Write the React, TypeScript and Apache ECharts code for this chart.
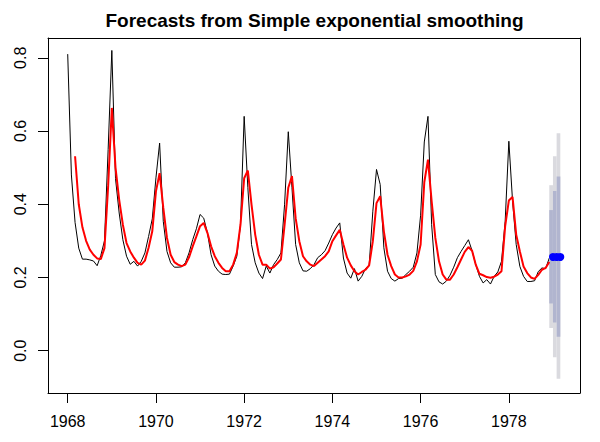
import React, { useEffect, useRef } from "react";
import * as echarts from "echarts";

const chartTitle = "Forecasts from Simple exponential smoothing";
const startYear = 1968;
const frequency = 12;

// Observed monthly series, Jan 1968 - Dec 1978
const observed = [
  0.81, 0.48, 0.35, 0.28, 0.25, 0.25, 0.248, 0.245, 0.232, 0.26, 0.3, 0.55,
  0.82, 0.47, 0.376, 0.303, 0.258, 0.236, 0.244, 0.231, 0.244, 0.267, 0.312, 0.36,
  0.472, 0.567, 0.353, 0.271, 0.24, 0.228, 0.228, 0.229, 0.24, 0.267, 0.303, 0.333,
  0.372, 0.362, 0.322, 0.262, 0.231, 0.217, 0.209, 0.208, 0.209, 0.231, 0.258, 0.344,
  0.64, 0.445, 0.29, 0.24, 0.212, 0.197, 0.231, 0.212, 0.235, 0.249, 0.267, 0.4,
  0.598, 0.445, 0.29, 0.24, 0.218, 0.217, 0.224, 0.235, 0.254, 0.262, 0.273, 0.294,
  0.317, 0.335, 0.349, 0.253, 0.212, 0.198, 0.224, 0.19, 0.203, 0.224, 0.233, 0.381,
  0.495, 0.454, 0.281, 0.217, 0.197, 0.19, 0.197, 0.198, 0.208, 0.217, 0.228, 0.267,
  0.37, 0.57, 0.64, 0.344, 0.208, 0.188, 0.182, 0.19, 0.206, 0.228, 0.254, 0.271,
  0.287, 0.303, 0.273, 0.235, 0.203, 0.185, 0.194, 0.182, 0.203, 0.215, 0.244, 0.353,
  0.572, 0.41, 0.29, 0.23, 0.203, 0.189, 0.189, 0.191, 0.216, 0.226, 0.224, 0.253,
];

// Fitted values (red), same time index; first two months have none
const fitted = [
  null, null, 0.531, 0.4, 0.337, 0.3, 0.276, 0.262, 0.252, 0.25, 0.28, 0.45,
  0.663, 0.5, 0.412, 0.344, 0.294, 0.271, 0.254, 0.24, 0.235, 0.246, 0.281, 0.326,
  0.435, 0.485, 0.39, 0.308, 0.262, 0.242, 0.235, 0.231, 0.235, 0.255, 0.285, 0.312,
  0.34, 0.349, 0.322, 0.285, 0.258, 0.24, 0.226, 0.217, 0.217, 0.235, 0.267, 0.344,
  0.471, 0.492, 0.399, 0.317, 0.262, 0.235, 0.235, 0.224, 0.228, 0.238, 0.249, 0.344,
  0.445, 0.477, 0.362, 0.299, 0.258, 0.244, 0.235, 0.231, 0.24, 0.249, 0.258, 0.271,
  0.299, 0.315, 0.33, 0.29, 0.254, 0.233, 0.217, 0.208, 0.215, 0.221, 0.233, 0.299,
  0.403, 0.422, 0.326, 0.262, 0.231, 0.208, 0.2, 0.2, 0.203, 0.208, 0.218, 0.244,
  0.29, 0.46, 0.522, 0.408, 0.308, 0.244, 0.208, 0.194, 0.194, 0.208, 0.228, 0.249,
  0.27, 0.283, 0.273, 0.235, 0.21, 0.206, 0.201, 0.199, 0.202, 0.208, 0.217, 0.34,
  0.41, 0.42, 0.317, 0.271, 0.23, 0.212, 0.2, 0.196, 0.207, 0.221, 0.226, 0.242,
];

// Forecasts for Jan-Mar 1979
const forecastMean = [0.256, 0.256, 0.256];
const lower80 = [0.129, 0.077, 0.038];
const upper80 = [0.384, 0.436, 0.476];
const lower95 = [0.062, -0.018, -0.077];
const upper95 = [0.452, 0.531, 0.594];

const xTickValues = [1968, 1970, 1972, 1974, 1976, 1978];
const yTickValues = [0, 0.2, 0.4, 0.6, 0.8];

const FONT = "'Liberation Sans', Arial, sans-serif";
const X_MIN = 1967.553;
const X_MAX = 1979.613;
const Y_MIN = -0.1156;
const Y_MAX = 0.854;

export default function App() {
  const ref = useRef<HTMLDivElement>(null);

  useEffect(() => {
    document.body.style.margin = "0";
    if (!ref.current) return;
    const chart = echarts.init(ref.current, null, { renderer: "svg" });
    const timeAt = (i: number) => startYear + i / frequency;
    const n = observed.length;
    const obsData = observed.map((v, i) => [timeAt(i), v]);
    const fitData = fitted
      .map((v, i) => [timeAt(i), v])
      .filter((d) => d[1] !== null);
    const fcData = forecastMean.map((v, i) => [timeAt(n + i), v]);
    const bandData = forecastMean.map((_, i) => [
      timeAt(n + i),
      lower95[i],
      upper95[i],
      lower80[i],
      upper80[i],
    ]);

    const boxLine = { show: true, onZero: false, lineStyle: { color: "#000", width: 1 } };

    chart.setOption({
      animation: false,
      graphic: [
        {
          type: "text",
          x: 314.5,
          y: 20,
          style: {
            text: chartTitle,
            textAlign: "center",
            textVerticalAlign: "middle",
            fontFamily: FONT,
            fontWeight: "bold",
            fontSize: 19,
            fill: "#000",
          },
        },
      ],
      grid: {
        left: 48,
        right: 20,
        top: 38,
        bottom: 49,
      },
      xAxis: [
        {
          type: "value",
          position: "bottom",
          min: X_MIN,
          max: X_MAX,
          axisLine: boxLine,
          splitLine: { show: false },
          axisTick: {
            show: true,
            customValues: xTickValues,
            length: 10,
            lineStyle: { color: "#000", width: 1 },
          },
          axisLabel: {
            customValues: xTickValues,
            color: "#000",
            fontSize: 16,
            fontFamily: FONT,
            margin: 20,
            formatter: (v: number) => String(Math.round(v)),
          },
        },
        {
          type: "value",
          position: "top",
          min: X_MIN,
          max: X_MAX,
          axisLine: boxLine,
          splitLine: { show: false },
          axisTick: { show: false },
          axisLabel: { show: false },
        },
      ],
      yAxis: [
        {
          type: "value",
          position: "left",
          min: Y_MIN,
          max: Y_MAX,
          axisLine: boxLine,
          splitLine: { show: false },
          axisTick: {
            show: true,
            customValues: yTickValues,
            length: 10,
            lineStyle: { color: "#000", width: 1 },
          },
          axisLabel: {
            customValues: yTickValues,
            color: "#000",
            fontSize: 16,
            fontFamily: FONT,
            rotate: 90,
            margin: 20,
            formatter: (v: number) => v.toFixed(1),
          },
        },
        {
          type: "value",
          position: "right",
          min: Y_MIN,
          max: Y_MAX,
          axisLine: boxLine,
          splitLine: { show: false },
          axisTick: { show: false },
          axisLabel: { show: false },
        },
      ],
      series: [
        {
          type: "line",
          name: "observed",
          data: obsData,
          showSymbol: false,
          symbol: "none",
          lineStyle: { color: "#000", width: 1 },
          z: 2,
        },
        {
          type: "custom",
          name: "intervals",
          data: bandData,
          encode: { x: 0, y: [1, 2, 3, 4] },
          silent: true,
          z: 3,
          renderItem: (params: any, api: any) => {
            const t = api.value(0);
            const xa = api.coord([t - 1 / frequency, 0])[0];
            const xb = api.coord([t, 0])[0];
            const y95lo = api.coord([t, api.value(1)])[1];
            const y95hi = api.coord([t, api.value(2)])[1];
            const y80lo = api.coord([t, api.value(3)])[1];
            const y80hi = api.coord([t, api.value(4)])[1];
            return {
              type: "group",
              children: [
                {
                  type: "rect",
                  shape: { x: xa, y: y95hi, width: xb - xa, height: y95lo - y95hi },
                  style: { fill: "#DADADF" },
                },
                {
                  type: "rect",
                  shape: { x: xa, y: y80hi, width: xb - xa, height: y80lo - y80hi },
                  style: { fill: "#B1B5CF" },
                },
              ],
            };
          },
        },
        {
          type: "line",
          name: "fitted",
          data: fitData,
          showSymbol: false,
          symbol: "none",
          lineStyle: { color: "#FF0000", width: 2 },
          z: 4,
        },
        {
          type: "line",
          name: "forecast",
          data: fcData,
          symbol: "circle",
          symbolSize: 8,
          showSymbol: true,
          itemStyle: { color: "#0000FF" },
          lineStyle: { color: "#0000FF", width: 2 },
          z: 5,
        },
      ],
    });
    return () => chart.dispose();
  }, []);

  return <div ref={ref} style={{ width: 600, height: 442 }} />;
}
